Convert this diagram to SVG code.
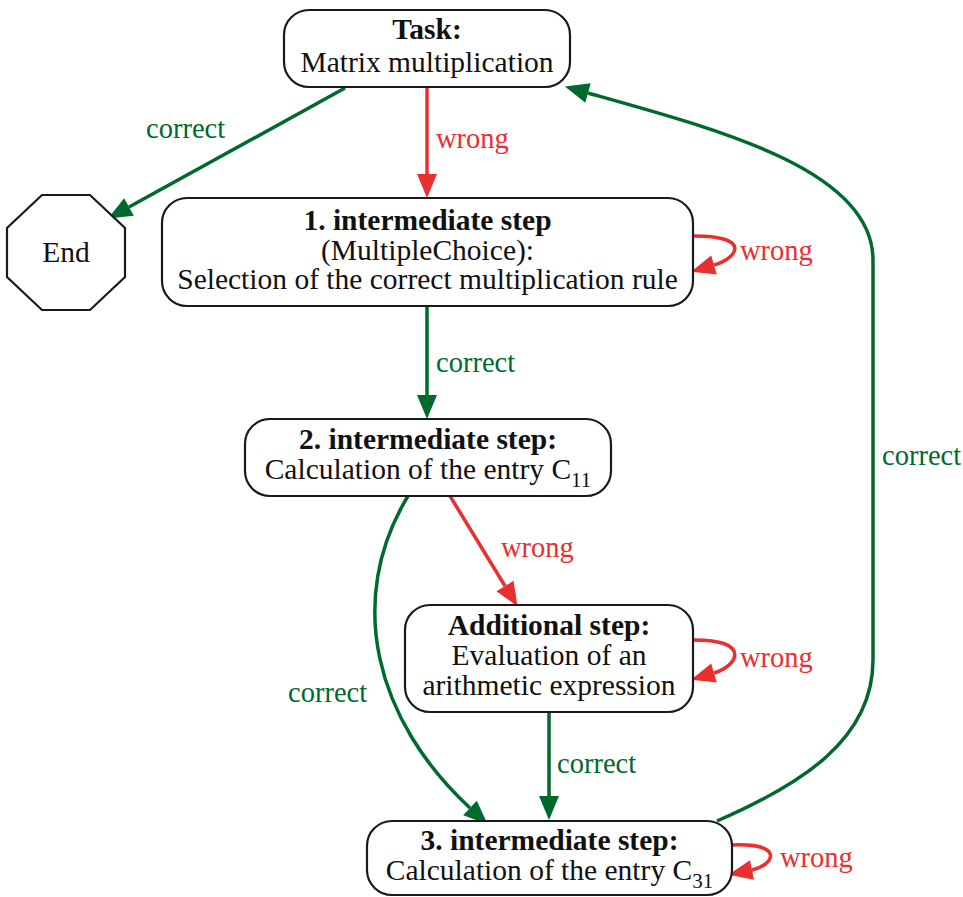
<svg xmlns="http://www.w3.org/2000/svg" width="963" height="897" viewBox="0 0 963 897">
<style>
text{font-family:"Liberation Serif","Times New Roman",serif;font-size:28.5px}
.n{fill:#fff;stroke:#1a1a1a;stroke-width:2.2}
.t{fill:#111;text-anchor:middle;font-size:29.5px}
.b{font-weight:bold}
.sub{font-size:21px}
.g{fill:none;stroke:#006a2e;stroke-width:3.5}
.r{fill:none;stroke:#e8302f;stroke-width:3.5}
.gl{fill:#006a2e}
.rl{fill:#e8302f}
</style>
<defs>
<marker id="ag" markerUnits="userSpaceOnUse" markerWidth="25" markerHeight="21" refX="0" refY="10" orient="auto" overflow="visible"><path d="M0,0 L24,10 L0,20 z" fill="#006a2e"/></marker>
<marker id="ar" markerUnits="userSpaceOnUse" markerWidth="25" markerHeight="21" refX="0" refY="10" orient="auto" overflow="visible"><path d="M0,0 L24,10 L0,20 z" fill="#e8302f"/></marker>
</defs>
<rect width="963" height="897" fill="#fff"/>
<g id="edges">
<path class="g" d="M345,88 L129,207" marker-end="url(#ag)"/>
<path class="r" d="M427,88 L427,174" marker-end="url(#ar)"/>
<path class="r" d="M694,236 C752,236 738,258 714,265" marker-end="url(#ar)"/>
<path class="g" d="M427,306 L427,395" marker-end="url(#ag)"/>
<path class="r" d="M450,496 L505,586" marker-end="url(#ar)"/>
<path class="g" d="M408,496 C345,600 375,720 470,808" marker-end="url(#ag)"/>
<path class="r" d="M694,640 C752,640 738,666 714,673" marker-end="url(#ar)"/>
<path class="g" d="M549,712 L549,796" marker-end="url(#ag)"/>
<path class="g" d="M717,821 C800,785 873,740 873,660 L873,260 C873,170 720,130 588,93" marker-end="url(#ag)"/>
<path class="r" d="M732,845 C788,843 772,866 752,870" marker-end="url(#ar)"/>
<text class="gl" x="146" y="138">correct</text>
<text class="rl" x="436" y="148">wrong</text>
<text class="rl" x="740" y="260">wrong</text>
<text class="gl" x="436" y="372">correct</text>
<text class="rl" x="501" y="557">wrong</text>
<text class="gl" x="288" y="702">correct</text>
<text class="rl" x="740" y="667">wrong</text>
<text class="gl" x="557" y="773">correct</text>
<text class="gl" x="882" y="465">correct</text>
<text class="rl" x="780" y="867">wrong</text>
</g>
<g id="task">
<rect class="n" x="284" y="10" width="286" height="77" rx="25"/>
<text class="t b" x="427" y="39">Task:</text>
<text class="t" x="427" y="72">Matrix multiplication</text>
</g>
<g id="end">
<polygon class="n" points="42,195 90,195 125,228 125,277 90,310 42,310 7,277 7,228"/>
<text class="t" x="66" y="262">End</text>
</g>
<g id="step1">
<rect class="n" x="162" y="198" width="531" height="108" rx="25"/>
<text class="t b" x="427.5" y="230">1. intermediate step</text>
<text class="t" x="427.5" y="260">(MultipleChoice):</text>
<text class="t" x="427.5" y="289">Selection of the correct multiplication rule</text>
</g>
<g id="step2">
<rect class="n" x="245" y="419" width="366" height="77" rx="25"/>
<text class="t b" x="428" y="449">2. intermediate step:</text>
<text class="t" x="428" y="479">Calculation of the entry C<tspan class="sub" dy="8">11</tspan></text>
</g>
<g id="additional">
<rect class="n" x="405" y="605" width="288" height="107" rx="25"/>
<text class="t b" x="549" y="635">Additional step:</text>
<text class="t" x="549" y="665">Evaluation of an</text>
<text class="t" x="549" y="695">arithmetic expression</text>
</g>
<g id="step3">
<rect class="n" x="367" y="821" width="365" height="74" rx="25"/>
<text class="t b" x="549.5" y="850">3. intermediate step:</text>
<text class="t" x="549.5" y="880">Calculation of the entry C<tspan class="sub" dy="8">31</tspan></text>
</g>
</svg>
